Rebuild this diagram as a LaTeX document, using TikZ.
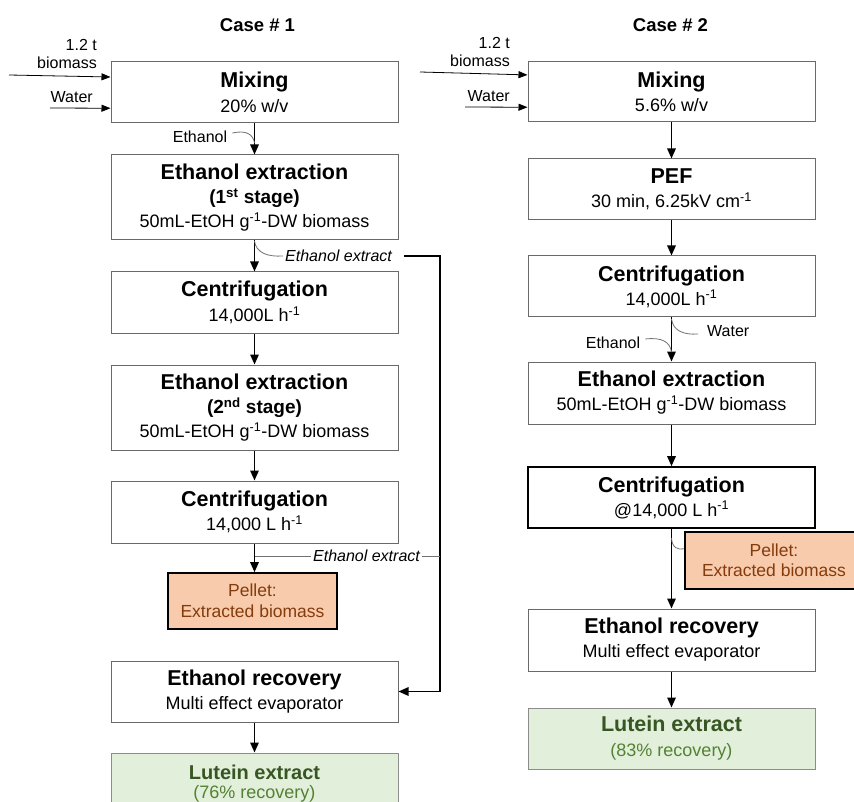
\documentclass[tikz,border=0pt]{standalone}
\usepackage{fontspec}
\setmainfont{Liberation Sans}
\usetikzlibrary{arrows.meta,calc}
\definecolor{pelfill}{HTML}{F8CBAD}
\definecolor{peltext}{HTML}{843C0C}
\definecolor{lutfill}{HTML}{E2EFDA}
\definecolor{luttext}{HTML}{375623}
\definecolor{lutsub}{HTML}{548235}
\definecolor{boxline}{HTML}{6A6A6A}
\newcommand\boxhead[1]{{\fontsize{21.5}{23}\selectfont\bfseries #1}}
\newcommand\boxstage[1]{{\fontsize{19}{23}\selectfont\bfseries #1}}
\begin{document}
\begin{tikzpicture}[x=1pt,y=-1pt,
  box/.style={draw=boxline, line width=1pt, fill=white, align=center, inner sep=0pt,
    minimum width=287pt, font=\fontsize{18}{23}\selectfont},
  darkbox/.style={box, draw=black, line width=1.6pt},
  pellet/.style={draw=black, line width=1.6pt, fill=pelfill, text=peltext, align=center,
    inner sep=0pt, font=\fontsize{17.5}{21}\selectfont},
  lutein/.style={box, draw=black!45, fill=lutfill, text=luttext},
  flow/.style={-{Triangle[length=10pt,width=8.5pt]}, line width=1.5pt},
  inflow/.style={-{Triangle[length=9pt,width=7pt]}, line width=0.8pt},
  callout/.style={draw=black!55, line width=0.8pt},
  lbl/.style={font=\fontsize{16}{18}\selectfont, inner sep=0pt},
  ilbl/.style={font=\fontsize{16}{18}\selectfont\itshape, inner sep=2pt},
  casehead/.style={font=\fontsize{18.5}{20}\selectfont\bfseries, inner sep=0pt}]
\clip (0,0) rectangle (854,802);
\fill[white] (0,0) rectangle (854,802);

% ---------- headings
\node[casehead] (case1) at (257.5,25) {Case \# 1};
\node[casehead] (case2) at (670.5,25) {Case \# 2};

% ---------- Case 1
\node[box, minimum height=61pt] (mix1) at (254.5,92.5) {\boxhead{Mixing}\\[1.5pt]20\% w/v};
\node[box, minimum height=85pt, font=\fontsize{18}{24}\selectfont] (ext1) at (254.5,197.5)
  {\boxhead{Ethanol extraction}\\\boxstage{(1\textsuperscript{st} stage)}\\50mL-EtOH g\textsuperscript{-1}-DW biomass};
\node[box, minimum height=61pt] (cen1) at (254.5,302.5) {\boxhead{Centrifugation}\\[1.5pt]14,000L h\textsuperscript{-1}};
\node[box, minimum height=85pt, font=\fontsize{18}{24}\selectfont] (ext2) at (254.5,407.5)
  {\boxhead{Ethanol extraction}\\\boxstage{(2\textsuperscript{nd} stage)}\\50mL-EtOH g\textsuperscript{-1}-DW biomass};
\node[box, minimum height=62pt] (cen2) at (254.5,512) {\boxhead{Centrifugation}\\[1.5pt]14,000 L h\textsuperscript{-1}};
\node[pellet, minimum width=169pt, minimum height=56pt] (pel1) at (252.5,601) {Pellet:\\Extracted biomass};
\node[box, minimum height=61pt] (rec1) at (254.5,691.5) {\boxhead{Ethanol recovery}\\[1.5pt]Multi effect evaporator};
\node[lutein, minimum height=61pt, font=\fontsize{18}{19}\selectfont] (lut1) at (254.5,783.5)
  {{\fontsize{20}{19}\selectfont\bfseries Lutein extract}\\\textcolor{lutsub}{(76\% recovery)}};

% inflows case 1
\node[lbl, anchor=east, align=right] (bio1) at (97,54) {1.2 t\\biomass};
\node[lbl, anchor=east] (wat1) at (93,97) {Water};
\coordinate (bio1s) at (9,75);
\coordinate (wat1s) at (50,108);
\draw[inflow] (bio1s) -- ($(mix1.north west)!0.25!(mix1.south west)$);
\draw[inflow] (wat1s) -- ($(mix1.north west)!0.754!(mix1.south west)$);

% flow case 1
\draw[flow] (mix1) -- (ext1);
\draw[flow] (ext1) -- (cen1);
\draw[flow] (cen1) -- (ext2);
\draw[flow] (ext2) -- (cen2);
\draw[flow] (cen2.south) -- (cen2.south |- pel1.north);
\draw[flow] (rec1) -- (lut1);

% ethanol feed case 1
\node[lbl] (eth1) at (200,137) {Ethanol};
\coordinate (eth1e) at (254.5,143);
\draw[callout] ($(eth1.east)+(5,-4)$) .. controls (246,130) and (253,134) .. (eth1e);

% ethanol extract 1
\node[ilbl, anchor=west] (ee1) at (283,256) {Ethanol extract};
\coordinate (ee1s) at (254.5,241);
\draw[callout] (ee1s) .. controls (256,253) and (268,257) .. (ee1.west);
\coordinate (ret1) at (440,256);
\draw[flow] ($(ee1.east)+(10,0)$) -- (ret1) |- (rec1.east);

% ethanol extract 2
\node[ilbl] (ee2) at (366.5,556) {Ethanol extract};
\coordinate (ee2s) at (254.5,556);
\draw[callout] (ee2s) -- (ee2.west);
\draw[callout] (ee2.east) -- (ee2.east -| ret1);

% ---------- Case 2
\node[box, minimum height=60pt] (mix2) at (671.5,92) {\boxhead{Mixing}\\[1.5pt]5.6\% w/v};
\node[box, minimum height=61pt, font=\fontsize{18}{24}\selectfont] (pef) at (671.5,189.5) {\boxhead{PEF}\\30 min, 6.25kV cm\textsuperscript{-1}};
\node[box, minimum height=61pt, font=\fontsize{18}{24}\selectfont] (cen3) at (671.5,286.5) {\boxhead{Centrifugation}\\14,000L h\textsuperscript{-1}};
\node[box, minimum height=62pt] (ext3) at (671.5,393) {\boxhead{Ethanol extraction}\\[1pt]50mL-EtOH g\textsuperscript{-1}-DW biomass};
\node[darkbox, minimum height=61pt, font=\fontsize{18}{24}\selectfont] (cen4) at (671.5,497.5) {\boxhead{Centrifugation}\\@14,000 L h\textsuperscript{-1}};
\node[box, minimum height=62pt, font=\fontsize{18}{24}\selectfont] (rec2) at (671.5,640) {\boxhead{Ethanol recovery}\\Multi effect evaporator};
\node[lutein, minimum height=61pt, font=\fontsize{18}{25}\selectfont] (lut2) at (671.5,738.5)
  {{\fontsize{21.5}{25}\selectfont\bfseries Lutein extract}\\\textcolor{lutsub}{(83\% recovery)}};

% inflows case 2
\node[lbl, anchor=east, align=right] (bio2) at (510,52) {1.2 t\\biomass};
\node[lbl, anchor=east] (wat2) at (510,96) {Water};
\coordinate (bio2s) at (420,72);
\coordinate (wat2s) at (465,107);
\draw[inflow] (bio2s) -- ($(mix2.north west)!0.22!(mix2.south west)$);
\draw[inflow] (wat2s) -- ($(mix2.north west)!0.75!(mix2.south west)$);

% flow case 2
\draw[flow] (mix2) -- (pef);
\draw[flow] (pef) -- (cen3);
\draw[flow] (cen3) -- (ext3);
\draw[flow] (ext3) -- (cen4);
\draw[flow] (cen4) -- (rec2);
\draw[flow] (rec2) -- (lut2);

% water / ethanol feed case 2
\node[lbl, anchor=west] (wat3) at (707,331) {Water};
\coordinate (wat3s) at (671.5,319);
\draw[callout] (wat3s) .. controls (673,331) and (684,335) .. ($(wat3.west)+(-9,3)$);
\node[lbl] (eth3) at (613,343) {Ethanol};
\coordinate (eth3e) at (671.5,352);
\draw[callout] ($(eth3.east)+(5,-4)$) .. controls (662,337) and (670,342) .. (eth3e);

% pellet case 2
\coordinate (pel2s) at (671.5,538);
\node[pellet, minimum width=178pt, minimum height=57pt, font=\fontsize{17.5}{20}\selectfont] (pel2) at (774,560.5) {Pellet:\\Extracted biomass};
\draw[callout] (pel2s) .. controls (672,548) and (678,550) .. ($(pel2.north west)!0.3!(pel2.south west)$);
\end{tikzpicture}
\end{document}
